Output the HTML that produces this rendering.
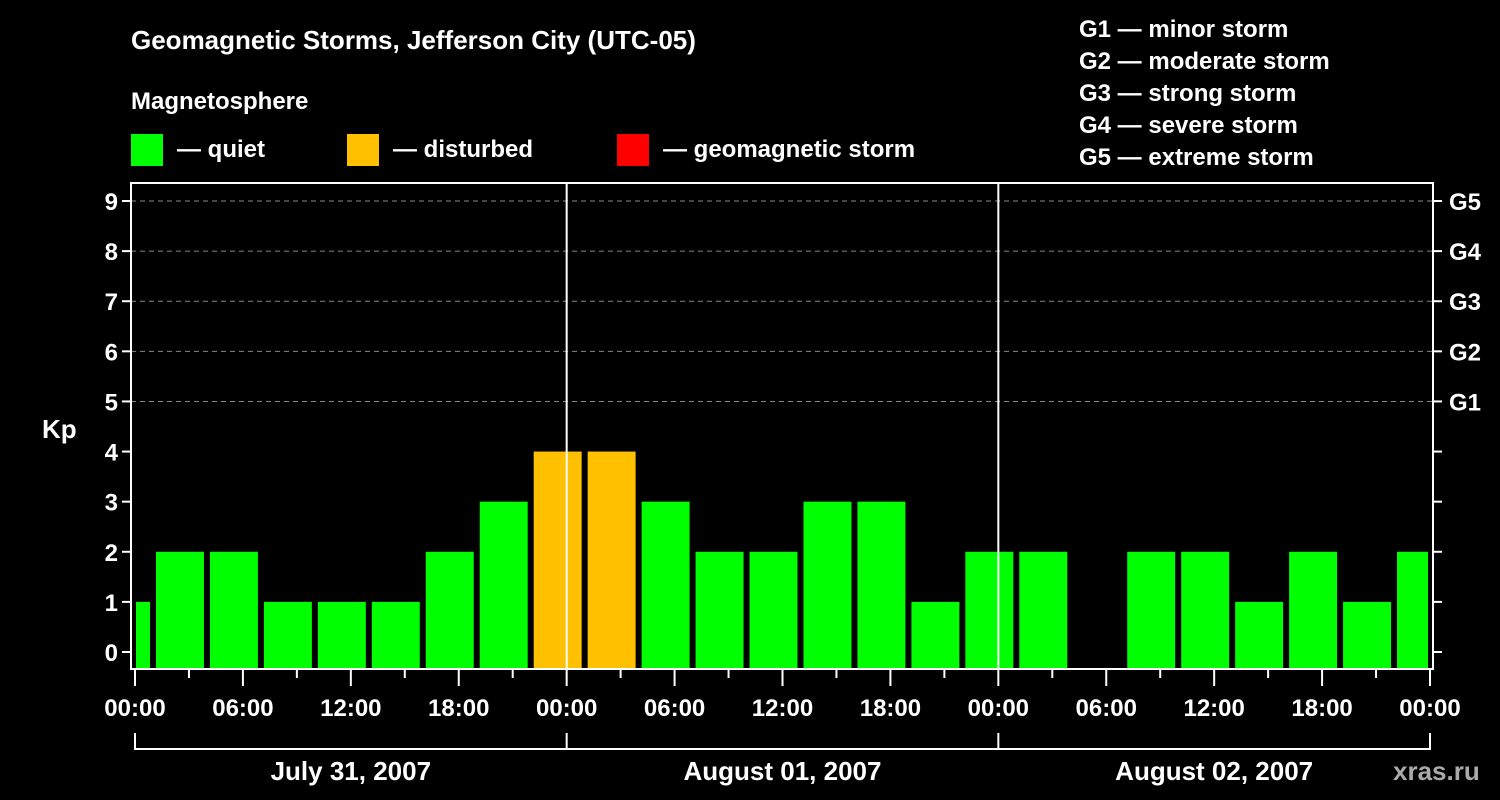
<!DOCTYPE html>
<html><head><meta charset="utf-8"><style>
html,body{margin:0;padding:0;background:#000;width:1500px;height:800px;overflow:hidden}
svg text{font-family:"Liberation Sans",Arial,sans-serif;font-weight:bold;fill:#fff}
</style></head><body>
<svg id="chart" width="1500" height="800" xmlns="http://www.w3.org/2000/svg">
<text x="131" y="49" font-size="26">Geomagnetic Storms, Jefferson City (UTC-05)</text>
<text x="131" y="109" font-size="24">Magnetosphere</text>
<g>
<rect x="131" y="134" width="32" height="32" fill="#00ff00"/>
<text x="177" y="157" font-size="24">— quiet</text>
<rect x="347" y="134" width="32" height="32" fill="#ffc000"/>
<text x="393" y="157" font-size="24">— disturbed</text>
<rect x="617" y="134" width="32" height="32" fill="#ff0000"/>
<text x="663" y="157" font-size="24">— geomagnetic storm</text>
</g>
<g font-size="24">
<text x="1079" y="37">G1 — minor storm</text>
<text x="1079" y="69">G2 — moderate storm</text>
<text x="1079" y="101">G3 — strong storm</text>
<text x="1079" y="133">G4 — severe storm</text>
<text x="1079" y="165">G5 — extreme storm</text>
</g>
<text x="42" y="438" font-size="26">Kp</text>
<text x="1393" y="780" font-size="26" fill="#aaa" style="fill:#aaaaaa">xras.ru</text>
<g id="grid"></g><g id="bars"></g><g id="axes"></g>
</svg>
<script>
const kpValues=[1,2,2,1,1,1,2,3,4,4,3,2,2,3,3,1,2,2,null,2,2,1,2,1,2];
const barStartHours=[-2,1,4,7,10,13,16,19,22,25,28,31,34,37,40,43,46,49,52,55,58,61,64,67,70];
const yTicks=[0,1,2,3,4,5,6,7,8,9];
const gLabels=["G1","G2","G3","G4","G5"];
const gLevels=[5,6,7,8,9];
const xTickLabels=["00:00","06:00","12:00","18:00","00:00","06:00","12:00","18:00","00:00","06:00","12:00","18:00","00:00"];
const dayLabels=["July 31, 2007","August 01, 2007","August 02, 2007"];
const NS="http://www.w3.org/2000/svg";
const L=131,R=1433,T=183,B=669,X0=135,X1=1430;
const xs=h=>X0+(X1-X0)*h/72;
const ys=v=>652-(652-201)*v/9;
function mk(p,tag,a){const e=document.createElementNS(NS,tag);for(const k in a)e.setAttribute(k,a[k]);p.appendChild(e);return e;}
const grid=document.getElementById('grid'),bars=document.getElementById('bars'),axes=document.getElementById('axes');
yTicks.forEach(v=>{
 if(v>=5){const g=mk(grid,'line',{x1:L,x2:R,y1:ys(v),y2:ys(v),stroke:'#888','stroke-dasharray':'5,4','stroke-width':1});
 
 }
 const t=mk(axes,'text',{x:118,y:ys(v)+9,'font-size':24,'text-anchor':'end'});t.textContent=v;
 
 
 mk(axes,'line',{x1:L-9,x2:L,y1:ys(v),y2:ys(v),stroke:'#fff','stroke-width':2});
 mk(axes,'line',{x1:R,x2:R+9,y1:ys(v),y2:ys(v),stroke:'#fff','stroke-width':2});
});
gLevels.forEach((v,i)=>{const t=mk(axes,'text',{x:1449,y:ys(v)+9,'font-size':24});t.textContent=gLabels[i];
 
 });
kpValues.forEach((v,i)=>{
 if(v===null)return;
 let a=Math.max(xs(barStartHours[i])+3,X0+1),b=Math.min(xs(barStartHours[i]+3)-3,X1-2);
 const c=v>=5?'#ff0000':(v>=4?'#ffc000':'#00ff00');
 const r=mk(bars,'rect',{x:a,y:ys(v),width:b-a,height:B-ys(v),fill:c});
 
 
});
mk(axes,'rect',{x:L,y:T,width:R-L,height:B-T,fill:'none',stroke:'#fff','stroke-width':2});
[24,48].forEach(h=>mk(axes,'line',{x1:xs(h),x2:xs(h),y1:T,y2:B,stroke:'#fff','stroke-width':2}));
for(let h=0;h<=72;h+=3){mk(axes,'line',{x1:xs(h),x2:xs(h),y1:B,y2:B+(h%6===0?17:9),stroke:'#fff','stroke-width':2});}
xTickLabels.forEach((s,i)=>{const t=mk(axes,'text',{x:xs(i*6),y:716,'font-size':24,'text-anchor':'middle'});t.textContent=s;
 
 });
mk(axes,'line',{x1:xs(0),x2:xs(72),y1:749,y2:749,stroke:'#fff','stroke-width':2});
[0,24,48,72].forEach(h=>mk(axes,'line',{x1:xs(h),x2:xs(h),y1:733,y2:750,stroke:'#fff','stroke-width':2}));
dayLabels.forEach((s,i)=>{const t=mk(axes,'text',{x:xs(i*24+12),y:780,'font-size':26,'text-anchor':'middle'});t.textContent=s;
 
 });
</script>
</body></html>
